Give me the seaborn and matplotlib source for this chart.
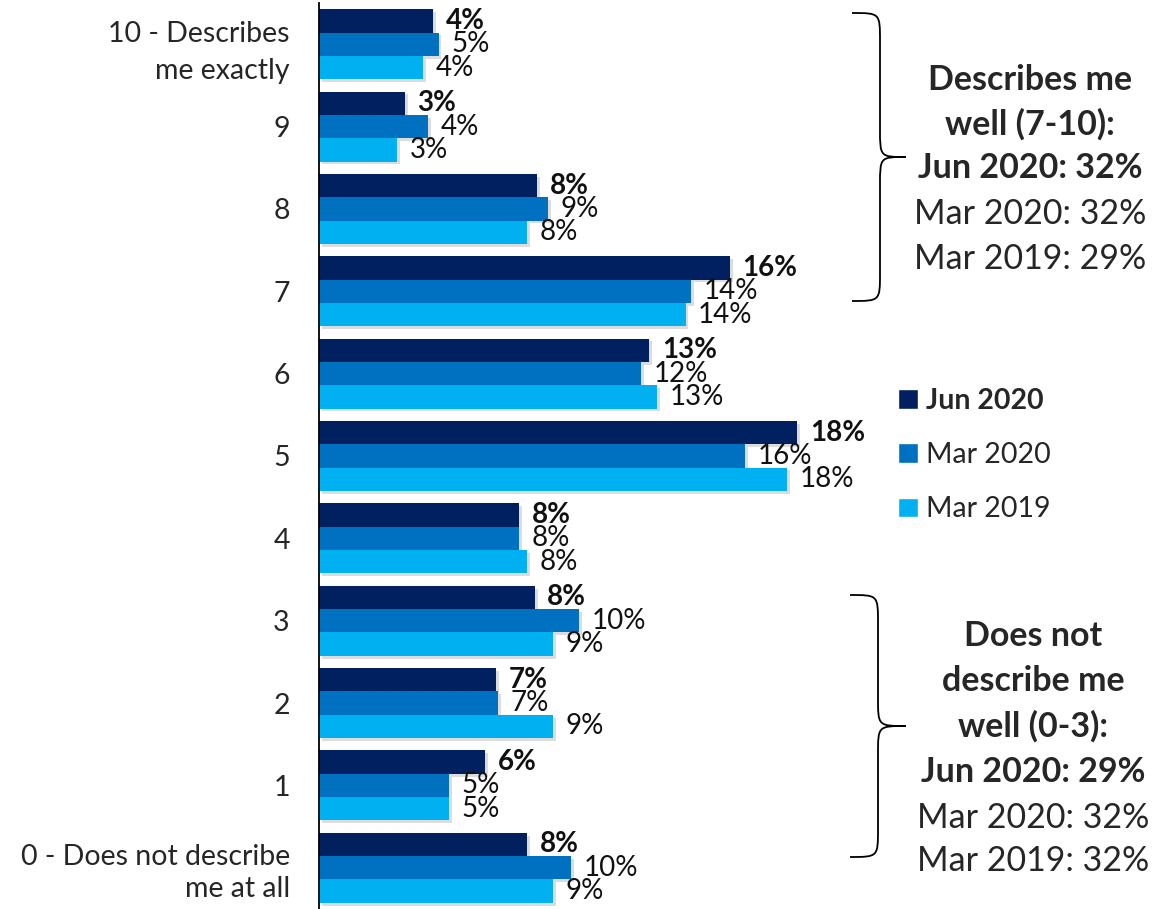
import pandas as pd
import seaborn as sns
import matplotlib.pyplot as plt
import matplotlib.patheffects as pe
from matplotlib.path import Path
from matplotlib.patches import PathPatch, Patch

# rating categories, top to bottom
ratings = ['10 - Describes\nme exactly', '9', '8', '7', '6', '5', '4', '3', '2', '1',
           '0 - Does not describe\nme at all']
waves = ['Jun 2020', 'Mar 2020', 'Mar 2019']

# percentages
jun_2020 = [4.4, 3.3, 8.4, 15.8, 12.7, 18.4, 7.7, 8.3, 6.8, 6.4, 8.0]
mar_2020 = [4.6, 4.2, 8.8, 14.3, 12.4, 16.4, 7.7, 10.0, 6.9, 5.0, 9.7]
mar_2019 = [4.0, 3.0, 8.0, 14.1, 13.0, 18.0, 8.0, 9.0, 9.0, 5.0, 9.0]

colors = ['#002060', '#0070C0', '#00B0F0']

top_summary = ['Describes me', 'well (7-10):', 'Jun 2020: 32%', 'Mar 2020: 32%', 'Mar 2019: 29%']
bottom_summary = ['Does not', 'describe me', 'well (0-3):', 'Jun 2020: 29%',
                  'Mar 2020: 32%', 'Mar 2019: 32%']

df = pd.DataFrame({
    'rating': ratings * 3,
    'wave': [w for w in waves for _ in ratings],
    'pct': jun_2020 + mar_2020 + mar_2019,
})

sns.set_style('white')
plt.rcParams['font.family'] = ['Lato', 'DejaVu Sans']

W, H = 1157, 909
fig = plt.figure(figsize=(W / 100, H / 100), dpi=100)
ax = fig.add_axes([319 / W, 0, 832 / W, 1 - 3 / H])

sns.barplot(data=df, x='pct', y='rating', hue='wave', order=ratings, hue_order=waves,
            palette=colors, width=0.85, orient='h', saturation=1, ax=ax, legend=False,
            linewidth=0)

ax.set_xlim(0, 32)
ax.set_xlabel('')
ax.set_ylabel('')
ax.set_xticks([])
for s in ['top', 'right', 'bottom']:
    ax.spines[s].set_visible(False)
ax.spines['left'].set_color('black')
ax.spines['left'].set_linewidth(1.3)
ax.tick_params(axis='y', length=0, pad=21, labelsize=20.5)
labels = ax.get_yticklabels()
labels[0].set_linespacing(1.55)
labels[-1].set_linespacing(1.25)

shadow = [pe.SimplePatchShadow(offset=(2, -2), shadow_rgbFace='#777777', alpha=0.25), pe.Normal()]
for i, cont in enumerate(ax.containers):
    for bar in cont:
        bar.set_path_effects(shadow)
    ax.bar_label(cont, labels=[f'{round(b.get_width())}%' for b in cont], padding=9,
                 fontsize=20, fontweight='bold' if i == 0 else 'normal', color='#111111')

# legend
handles = [Patch(facecolor=c, edgecolor='white') for c in colors]
leg = fig.legend(handles, waves, loc='center left', bbox_to_anchor=(872 / W, 1 - 455 / H),
                 frameon=False, fontsize=20.5, handlelength=0.7, handleheight=0.7,
                 handletextpad=0.3, labelspacing=1.0)
leg.get_texts()[0].set_fontweight('bold')


def brace(x_end, x_spine, x_tip, y_top, y_bot, r=28):
    ym = (y_top + y_bot) / 2
    pts = [(x_end, y_top), (x_spine, y_top), (x_spine, y_top), (x_spine, y_top + r),
           (x_spine, ym - r), (x_spine, ym), (x_spine, ym), (x_tip, ym),
           (x_spine, ym), (x_spine, ym), (x_spine, ym + r),
           (x_spine, y_bot - r), (x_spine, y_bot), (x_spine, y_bot), (x_end, y_bot)]
    codes = [Path.MOVETO, Path.CURVE4, Path.CURVE4, Path.CURVE4,
             Path.LINETO, Path.CURVE4, Path.CURVE4, Path.CURVE4,
             Path.CURVE4, Path.CURVE4, Path.CURVE4,
             Path.LINETO, Path.CURVE4, Path.CURVE4, Path.CURVE4]
    pts = [(x / W, 1 - y / H) for x, y in pts]
    fig.add_artist(PathPatch(Path(pts, codes), transform=fig.transFigure,
                             facecolor='none', edgecolor='black', lw=1.3))


brace(852, 880, 906, 13, 301)
brace(850, 878, 906, 595, 857)

for j, (txt, y) in enumerate(zip(top_summary, [80, 124, 168, 214, 259])):
    fig.text(1030 / W, 1 - y / H, txt, ha='center', va='center', fontsize=24.5,
             fontweight='bold' if j < 3 else 'normal')
for j, (txt, y) in enumerate(zip(bottom_summary, [636, 681, 726, 772, 818, 861])):
    fig.text(1033 / W, 1 - y / H, txt, ha='center', va='center', fontsize=24.5,
             fontweight='bold' if j < 4 else 'normal')

fig.savefig('out.png', dpi=100)
